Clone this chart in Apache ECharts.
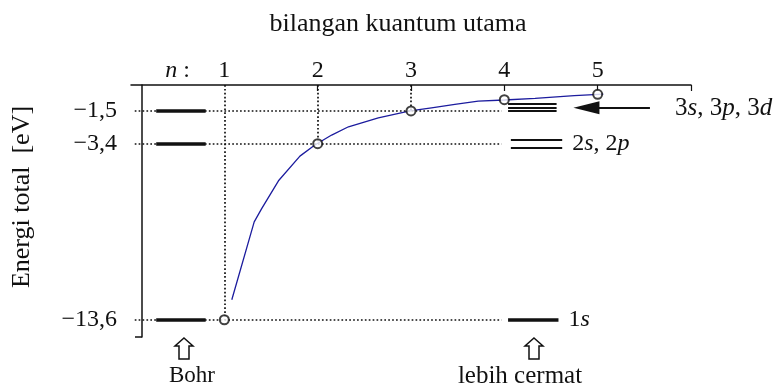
<!DOCTYPE html>
<html>
<head>
<meta charset="utf-8">
<script src="https://cdn.jsdelivr.net/npm/echarts@6/dist/echarts.min.js"></script>
<style>
  html, body { margin: 0; padding: 0; background: #fff; }
  #chart { width: 780px; height: 387px; }
</style>
</head>
<body>
<div id="chart"></div>
<script>
// Principal quantum number ticks on the top axis
const nTicks = [1, 2, 3, 4, 5];
// Total energy of each shell (eV), marked with open circles
const shellN = [1, 2, 3, 4, 5];
const shellEnergy = [-13.6, -3.4, -1.5, -0.85, -0.54];
// Energy levels labelled on the vertical axis and drawn in the Bohr column
const bohrLevels = [-1.5, -3.4, -13.6];
// Energy curve E(n) traced through the shells
const curveN = [1.08, 1.32, 1.40, 1.58, 1.81, 1.97, 2.15, 2.33, 2.65, 2.99, 3.22, 3.47, 3.72, 4.0, 4.33, 4.75, 5.06];
const curveE = [-12.44, -7.93, -7.16, -5.55, -4.12, -3.48, -2.90, -2.42, -1.90, -1.50, -1.32, -1.12, -0.93, -0.87, -0.77, -0.62, -0.53];
// Finer levels (subshells) in the "lebih cermat" column
const sub3 = [-1.07, -1.30, -1.52];
const sub2 = [-3.17, -3.63];
const sub1 = [-13.6];

const FONT = 'Liberation Serif';
const ink = '#111';

const dotStyle = { color: ink, width: 1.7, type: [1.7, 2.2] };
const levelLine = (x0, x1, e, width, label) => {
  const a = { coord: [x0, e], lineStyle: { color: ink, width: width, type: 'solid' } };
  if (label) a.label = label;
  return [a, { coord: [x1, e] }];
};
const richLabel = (text, dy) => ({
  show: true,
  position: 'end',
  distance: 10,
  formatter: text,
  offset: [0, dy || 0],
  color: ink,
  fontFamily: FONT,
  fontSize: 24,
  rich: {
    i: { fontFamily: FONT, fontSize: 24, fontStyle: 'italic', color: ink },
    d: { fontFamily: FONT, fontSize: 24, color: ink }
  }
});

const marks = [];
// dotted guides from the energy axis and from the top axis to each circle
bohrLevels.forEach(e => {
  marks.push([{ coord: [0.04, e], lineStyle: dotStyle }, { coord: [3.97, e] }]);
});
[0, 1, 2].forEach(i => {
  marks.push([{ coord: [shellN[i], 0], lineStyle: dotStyle }, { coord: [shellN[i], shellEnergy[i]] }]);
});
// Bohr levels
bohrLevels.forEach(e => marks.push(levelLine(0.27, 0.80, e, 3.5)));
// subshell levels
sub3.forEach(e => marks.push(levelLine(4.04, 4.56, e, 2)));
sub2.forEach((e, k) => marks.push(levelLine(4.07, 4.62, e, 2,
  k === 0 ? richLabel('{d|2}{i|s}{d|, 2}{i|p}', 4) : null)));
sub1.forEach(e => marks.push(levelLine(4.04, 4.58, e, 3.5, richLabel('{d|1}{i|s}'))));
// arrow pointing at the n = 3 subshells
marks.push([
  { coord: [5.56, -1.32], symbol: 'none', lineStyle: { color: ink, width: 2, type: 'solid' } },
  { coord: [4.88, -1.32], symbol: 'triangle', symbolSize: [13, 26] }
]);

const chart = echarts.init(document.getElementById('chart'), null, { renderer: 'canvas' });
chart.setOption({
  animation: false,
  backgroundColor: '#fff',
  grid: { left: 131, right: 89, top: 85, bottom: 50 },
  xAxis: {
    type: 'value',
    position: 'top',
    min: 0,
    max: 6,
    interval: 1,
    splitLine: { show: false },
    axisLine: { lineStyle: { color: ink, width: 1.5 } },
    axisTick: { inside: true, length: 6, customValues: [2, 3, 4, 5, 6], lineStyle: { color: ink, width: 1.2 } },
    axisLabel: {
      customValues: [0.5].concat(nTicks),
      formatter: v => v === 0.5 ? '{i|n} :' : String(v),
      margin: 2,
      color: ink,
      fontFamily: FONT,
      fontSize: 24,
      rich: { i: { fontFamily: FONT, fontSize: 24, fontStyle: 'italic', color: ink } }
    }
  },
  yAxis: {
    type: 'value',
    min: -14.6,
    max: 0,
    offset: -11,
    splitLine: { show: false },
    axisLine: { show: true, lineStyle: { color: ink, width: 1.5 } },
    axisTick: { show: true, customValues: [-14.6], length: 7, lineStyle: { color: ink, width: 1.5 } },
    axisLabel: {
      customValues: bohrLevels,
      formatter: v => String(v).replace('-', '\u2212').replace('.', ','),
      margin: 25,
      color: ink,
      fontFamily: FONT,
      fontSize: 24
    }
  },
  series: [
    {
      type: 'line',
      data: curveN.map((n, i) => [n, curveE[i]]),
      showSymbol: false,
      smooth: false,
      lineStyle: { color: '#1c1c9e', width: 1.3 },
      z: 3,
      markLine: { silent: true, symbol: 'none', animation: false, label: { show: false }, data: marks }
    },
    {
      type: 'scatter',
      data: shellN.map((n, i) => [n, shellEnergy[i]]),
      symbol: 'circle',
      symbolSize: 9,
      itemStyle: { color: '#fff', borderColor: ink, borderWidth: 2 },
      z: 5
    }
  ],
  graphic: [
    { type: 'text', x: 398, y: 24, style: { text: 'bilangan kuantum utama', fontFamily: FONT, fontSize: 26, fill: ink, align: 'center', verticalAlign: 'middle' } },
    { type: 'text', x: 22, y: 197, rotation: Math.PI / 2, style: { text: 'Energi total  [eV]', fontFamily: FONT, fontSize: 26, fill: ink, align: 'center', verticalAlign: 'middle' } },
    { type: 'text', x: 675, y: 108, style: {
        text: '{d|3}{i|s}{d|, 3}{i|p}{d|, 3}{i|d}', fill: ink, align: 'left', verticalAlign: 'middle',
        rich: { i: { fontFamily: FONT, fontSize: 25, fontStyle: 'italic', fill: ink }, d: { fontFamily: FONT, fontSize: 25, fill: ink } } } },
    { type: 'polygon', x: 184, y: 338, shape: { points: [[0, 0], [9, 8], [5, 8], [5, 21], [-5, 21], [-5, 8], [-9, 8]] }, style: { fill: '#fff', stroke: ink, lineWidth: 1.5 } },
    { type: 'polygon', x: 534, y: 338, shape: { points: [[0, 0], [9, 8], [5, 8], [5, 21], [-5, 21], [-5, 8], [-9, 8]] }, style: { fill: '#fff', stroke: ink, lineWidth: 1.5 } },
    { type: 'text', x: 192, y: 376, style: { text: 'Bohr', fontFamily: FONT, fontSize: 23, fill: ink, align: 'center', verticalAlign: 'middle' } },
    { type: 'text', x: 520, y: 376, style: { text: 'lebih cermat', fontFamily: FONT, fontSize: 25, fill: ink, align: 'center', verticalAlign: 'middle' } }
  ]
});
</script>
</body>
</html>
